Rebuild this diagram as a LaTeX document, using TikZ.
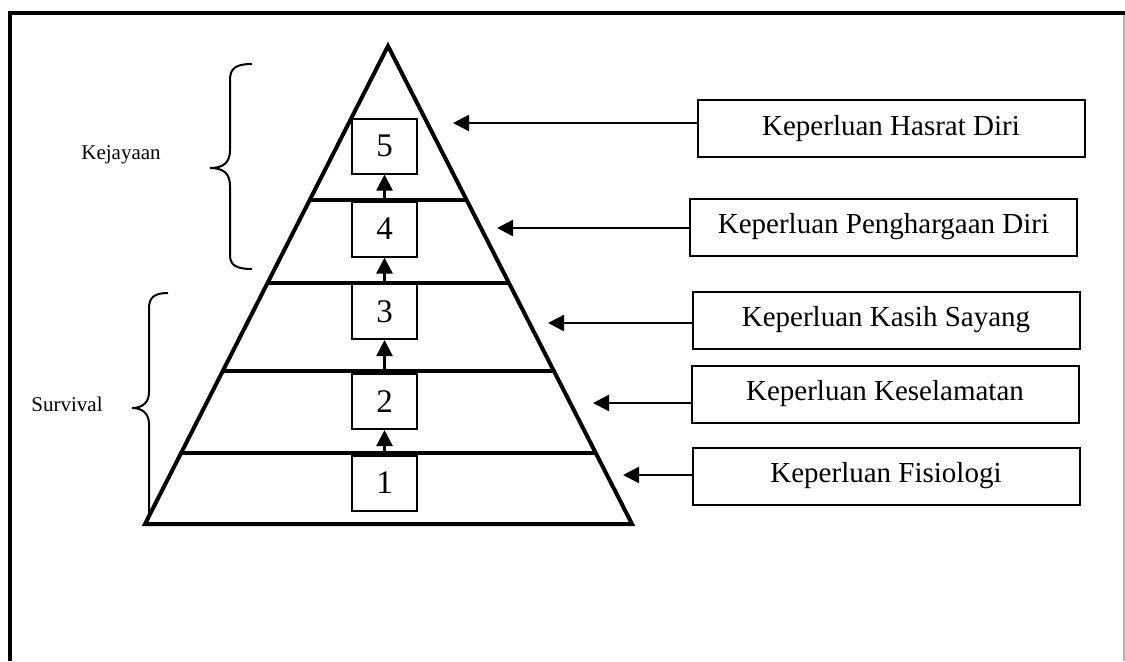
\documentclass[tikz,border=0pt]{standalone}
\usepackage{fontspec}
\setmainfont{Liberation Serif}
\usetikzlibrary{arrows.meta,calc}
\tikzset{
	layer/.style={line width=2pt},
	numbox/.style={draw,fill=white,line width=1pt,minimum width=32.5pt,minimum height=27.5pt,inner sep=0pt,font=\fontsize{16.5}{18}\selectfont},
	needbox/.style={draw,line width=1pt,minimum width=193.5pt,minimum height=28.5pt,inner sep=0pt,font=\fontsize{14.5}{17}\selectfont},
	arr/.style={line width=1.2pt,-{Triangle[length=8pt,width=8pt]}},
	grouplabel/.style={font=\fontsize{10.5}{12}\selectfont}
}
\begin{document}
\begin{tikzpicture}[x=0.5pt,y=-0.5pt]
		\useasboundingbox (0,0) rectangle (1125,661);
		% frame
		\draw[line width=2pt] (10,661) -- (10,13) -- (1125,13);
		\draw[gray!60,line width=0.6pt] (1124,15) -- (1124,661);
		
		% pyramid
		\coordinate (apex) at (388,46);
		\coordinate (bl) at (145,524);
		\coordinate (br) at (632,524);
		\draw[layer] (apex) -- (br) -- (bl) -- cycle;
		\foreach \t in {0.149,0.320,0.504,0.678}
			\draw[layer] ($(bl)!\t!(apex)$) -- ($(br)!\t!(apex)$);
		
		\node[numbox] (n5) at (384.5,146) {5};
		\node[numbox] (n4) at (384.5,229) {4};
		\node[numbox] (n3) at (384.5,311.5) {3};
		\node[numbox] (n2) at (384.5,401.5) {2};
		\node[numbox] (n1) at (384.5,483) {1};
		\foreach \a/\b in {n1/n2,n2/n3,n3/n4,n4/n5}
			\draw[arr] (\a.north) -- (\b.south);
		
		% needs
		\node[needbox] (hasrat) at (891,128.5) {Keperluan Hasrat Diri};
		\node[needbox] (harga) at (883.5,227) {Keperluan Penghargaan Diri};
		\node[needbox] (kasih) at (886,320) {Keperluan Kasih Sayang};
		\node[needbox] (selamat) at (885,394) {Keperluan Keselamatan};
		\node[needbox] (fisio) at (886,476) {Keperluan Fisiologi};
		
		\coordinate (t5) at (453,123);
		\coordinate (t4) at (497,228);
		\coordinate (t3) at (548,323);
		\coordinate (t2) at (593,403);
		\coordinate (t1) at (623,475);
		\draw[arr] (hasrat.west |- t5) -- (t5);
		\draw[arr] (harga.west |- t4) -- (t4);
		\draw[arr] (kasih.west |- t3) -- (t3);
		\draw[arr] (selamat.west |- t2) -- (t2);
		\draw[arr] (fisio.west |- t1) -- (t1);
		
		% braces
		\draw[line width=1pt] (252,64) .. controls (236,64) and (230,68) .. (230,80) -- (230,150)
			.. controls (230,162) and (224,168) .. (210,168) .. controls (224,168) and (230,174) .. (230,186)
			-- (230,255) .. controls (230,265) and (236,269) .. (252,269);
		\node[grouplabel] (kejayaan) at (121,155) {Kejayaan};
		
		\draw[line width=1pt] (168,293) .. controls (155,293) and (149,297) .. (149,308) -- (149,392)
			.. controls (149,402) and (143,408) .. (132,408) .. controls (143,408) and (149,414) .. (149,424)
			-- (149,515) .. controls (149,520) and (147,523) .. (145,524);
		\node[grouplabel] (survival) at (67,404) {Survival};
\end{tikzpicture}
\end{document}
